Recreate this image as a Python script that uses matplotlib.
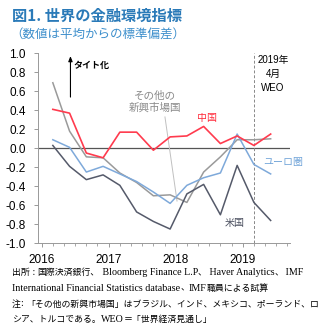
import numpy as np
import matplotlib
matplotlib.use("Agg")
import matplotlib.pyplot as plt

plt.rcParams['font.family'] = ['Liberation Sans', 'Noto Sans CJK JP']
plt.rcParams['axes.unicode_minus'] = False

# quarterly observations, first one around March 2016
quarters = ['2016Q1', '2016Q2', '2016Q3', '2016Q4', '2017Q1', '2017Q2', '2017Q3',
            '2017Q4', '2018Q1', '2018Q2', '2018Q3', '2018Q4', '2019Q1', '2019Q2']
china = [0.41, 0.37, -0.05, -0.10, 0.17, 0.17, -0.02, 0.12, 0.13, 0.23, 0.05, 0.13, 0.03, 0.15]
other_em = [0.69, 0.18, -0.09, -0.10, -0.26, -0.36, -0.50, -0.49, -0.57, -0.25, -0.09, 0.09, 0.09, 0.10]
euro = [0.09, 0.01, -0.25, -0.19, -0.27, -0.35, -0.46, -0.58, -0.39, -0.31, -0.26, 0.15, -0.17, -0.27]
us = [0.03, -0.19, -0.33, -0.28, -0.39, -0.67, -0.77, -0.85, -0.48, -0.38, -0.70, -0.18, -0.57, -0.76]
years = [2016, 2017, 2018, 2019]
yticks = [1.0, 0.8, 0.6, 0.4, 0.2, 0.0, -0.2, -0.4, -0.6, -0.8, -1.0]

notes = ['出所 : 国際決済銀行、 Bloomberg Finance L.P、 Haver Analytics、 IMF',
         'International Financial Statistics database、IMF職員による試算',
         '注: 「その他の新興市場国」はブラジル、インド、メキシコ、ポーランド、ロ',
         'シア、トルコである。WEO＝「世界経済見通し」']

x = np.array([int(q[:4]) + 0.167 + 0.25 * (int(q[-1]) - 1) for q in quarters])
weo_x = x[12]

fig = plt.figure(figsize=(3.32, 3.34), dpi=100)
ax = fig.add_axes([0.1145, 0.2716, 0.7585, 0.5688])

ax.axhline(0, color='#555555', lw=0.9, zorder=1)
ax.axvline(weo_x, color='#888888', lw=0.7, ls=(0, (3, 2)), zorder=1)

ax.plot(x, other_em, color='#9a9a9a', lw=1.1, zorder=2)
ax.plot(x, euro, color='#7ea9da', lw=1.1, zorder=3)
ax.plot(x, us, color='#555a6a', lw=1.1, zorder=3)
ax.plot(x, china, color='#ff3b4e', lw=1.2, zorder=4)

ax.set_xlim(2015.946, 2019.703)
ax.set_ylim(-1.0, 1.0)
ax.set_yticks(yticks)
ax.set_yticklabels([f"{v:.1f}" for v in yticks])
ax.set_xticks(years)
ax.set_xticklabels([str(y) for y in years])
ax.set_xticks(np.arange(2016, 2019.75, 1 / 6), minor=True)
ax.tick_params(axis='both', labelsize=8.5, colors='#999999', labelcolor='black', length=3, width=0.7)
ax.tick_params(axis='x', which='minor', length=2, width=0.6, colors='#999999')
ax.tick_params(axis='y', pad=6)
ax.tick_params(axis='x', pad=5)
for s in ['top', 'right']:
    ax.spines[s].set_visible(False)
for s in ['left', 'bottom']:
    ax.spines[s].set_color('#999999')
    ax.spines[s].set_linewidth(0.7)

# annotations
ax.annotate('', xy=(2016.43, 1.0), xytext=(2016.43, 0.51),
            arrowprops=dict(arrowstyle='-|>,head_length=0.3,head_width=0.12', color='black', lw=0.8))
ax.text(2016.48, 0.87, 'タイト化', fontsize=6.5, fontweight='bold', va='center', ha='left')
ax.text(2019.45, 0.78, '2019年\n4月\nWEO', fontsize=7, ha='center', va='center', linespacing=1.5)
ax.text(2018.466, 0.32, '中国', color='#ff2a3a', fontsize=7.2, ha='center', va='center')
ax.text(2019.30, -0.145, 'ユーロ圏', color='#6fa3d8', fontsize=7.2, ha='left', va='center')
ax.text(2018.88, -0.79, '米国', color='#4a4f5f', fontsize=7.2, ha='center', va='center')
ax.text(2017.69, 0.49, 'その他の\n新興市場国', color='#8a8a8a', fontsize=7.6, ha='center', va='center', linespacing=1.3)
ax.plot([2017.84, 2018.02], [0.33, -0.555], color='#c0c0c0', lw=0.7, zorder=1)

fig.text(0.036, 0.952, '図1. 世界の金融環境指標', color='#2a7ab8', fontsize=11,
         fontweight='bold', family=['Noto Sans CJK JP'], va='center')
fig.text(0.03, 0.895, '（数値は平均からの標準偏差）', color='#3d8fcc', fontsize=9,
         family=['Noto Sans CJK JP'], va='center')


def is_cjk(ch):
    return ord(ch) >= 0x2E80


def note_line(x0, y, text):
    # latin runs in a serif face, japanese runs in the CJK face, laid end to end
    runs = []
    for ch in text:
        kind = is_cjk(ch)
        if runs and runs[-1][0] == kind:
            runs[-1][1] += ch
        else:
            runs.append([kind, ch])
    renderer = fig.canvas.get_renderer()
    xpos = x0
    for kind, chunk in runs:
        if kind:
            t = fig.text(xpos, y, chunk, fontsize=6.4, va='center',
                         family=['Noto Sans CJK JP'])
        else:
            t = fig.text(xpos, y, chunk, fontsize=7.2, va='center',
                         family=['Liberation Serif'])
        bb = t.get_window_extent(renderer)
        xpos = fig.transFigure.inverted().transform((bb.x1, bb.y0))[0]


for i, line in enumerate(notes):
    note_line(0.036, 0.183 - i * 0.0465, line)

fig.savefig('out.png', dpi=100)
